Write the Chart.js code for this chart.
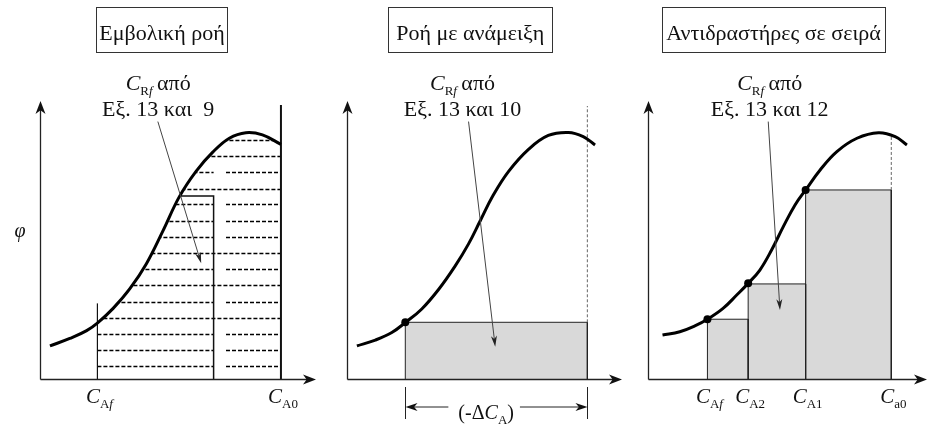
<!DOCTYPE html>
<html>
<head>
<meta charset="utf-8">
<script src="https://cdn.jsdelivr.net/npm/chart.js@4.4.0/dist/chart.umd.min.js"></script>
<style>
html,body{margin:0;padding:0;background:#fff;}
body{width:932px;height:426px;position:relative;overflow:hidden;}
canvas{position:absolute;top:0;}
</style>
</head>
<body>
<canvas id="plug" style="left:0px" width="325" height="426"></canvas>
<canvas id="cstr" style="left:320px" width="310" height="426"></canvas>
<canvas id="series" style="left:625px" width="307" height="426"></canvas>
<script>
// axes run 0..100 in both directions (x = concentration, y = φ)
const curve1U   = [3.6, 10.8, 16.9, 21.0, 26.5, 32.5, 38.5, 44.5, 50.5, 56.6, 62.6, 68.6, 74.6, 80.6, 87.3];
const curve1Phi = [11.9, 14.6, 17.4, 20.3, 25.4, 32.4, 41.4, 53.2, 65.6, 74.8, 81.6, 86.6, 88.6, 87.8, 84.4];
const curve2U   = [3.6, 10.3, 16.3, 21.2, 27.2, 33.3, 39.3, 44.2, 48.5, 53.0, 58.7, 66.0, 73.2, 80.5, 85.9, 90.2];
const curve2Phi = [11.9, 14.0, 16.7, 20.3, 25.2, 32.2, 40.6, 48.6, 57.0, 65.8, 74.6, 82.6, 87.6, 88.7, 87.2, 84.2];
const curve3U   = [5.2, 11.4, 16.8, 21.3, 26.9, 31.8, 35.9, 40.1, 44.3, 48.5, 52.7, 56.5, 61.7, 67.7, 74.9, 82.6, 88.6, 92.8];
const curve3Phi = [15.8, 17.0, 19.1, 21.5, 25.4, 30.2, 34.4, 39.2, 46.4, 54.8, 62.6, 68.0, 75.2, 81.8, 86.6, 88.6, 87.2, 84.2];

// plug flow
const pfrCAf = 20.8, pfrCA0 = 87.3;
const pfrCAfTop = 27.2, pfrCA0Top = 98.6;
const pfrInnerX = [50.8, 62.9], pfrInnerTop = 65.8;
const hatchLevels = [86.0, 80.2, 74.4, 68.3, 62.8, 56.9, 51.2, 45.2, 39.6, 33.8, 27.8, 22.1, 16.2, 10.4, 4.7];
const hatchSplit  = [0, 0, 1, 0, 1, 1, 1, 0, 1, 0, 1, 0, 1, 1, 1];
const hatchGap = [62.9, 67.4];

// mixed flow
const cstrCAf = 21.2, cstrCA0 = 87.4, cstrPhi = 20.4, cstrDashTop = 98.2;

// reactors in series
const seriesEdges = [21.3, 35.9, 56.5, 87.2];
const seriesPhi   = [21.5, 34.2, 68.0];
const seriesDotU  = [21.3, 35.9, 56.5];
const seriesDotPhi = [21.5, 34.4, 68.0];
const seriesDashTop = 88.0;

const SERIF = '"Liberation Serif", "DejaVu Serif", serif';
const C = (sub, subIt) => {
  const p = [{t: 'C', it: true}];
  sub.split('').forEach((ch, i) => p.push({t: ch, sub: true, it: !!(subIt && subIt[i])}));
  return p;
};
const noteHead = [{t: 'C', it: true}, {t: 'R', sub: true}, {t: 'f', sub: true, it: true}, {t: '\u2009από'}];

const pts = (xs, ys) => xs.map((x, i) => ({x, y: ys[i]}));
const curveDs = (xs, ys) => ({data: pts(xs, ys), borderColor: '#000', borderWidth: 3, tension: 0.4, pointRadius: 0, fill: false, order: 0});
const lineDs = (data, w, color, dash) => ({data, borderColor: color || '#111', borderWidth: w, borderDash: dash || [], pointRadius: 0, tension: 0, fill: false, order: 1});
const rectDs = (x0, x1, h) => ({data: [{x: x0, y: 0}, {x: x0, y: h}, {x: x1, y: h}, {x: x1, y: 0}], borderColor: '#222', borderWidth: 1, backgroundColor: '#d9d9d9', fill: 'origin', pointRadius: 0, tension: 0, order: 2});
const dotDs = (xs, ys) => ({data: pts(xs, ys), showLine: false, pointRadius: 4, pointBackgroundColor: '#000', pointBorderColor: '#000', pointBorderWidth: 0, order: -1});

function font(p, size) {
  const s = p.sub ? 13 : size;
  return (p.it ? 'italic ' : '') + s + 'px ' + SERIF;
}
function drawRich(ctx, parts, cx, base, size) {
  size = size || 20;
  let w = 0;
  parts.forEach(p => { ctx.font = font(p, size); w += ctx.measureText(p.t).width; });
  let x = cx - w / 2;
  ctx.textAlign = 'left'; ctx.textBaseline = 'alphabetic';
  parts.forEach(p => {
    ctx.font = font(p, size);
    ctx.fillText(p.t, x, base + (p.sub ? 5 : 0));
    x += ctx.measureText(p.t).width;
  });
  return w;
}
function head(ctx, x, y, ang, len, half) {
  ctx.save(); ctx.translate(x, y); ctx.rotate(ang);
  ctx.beginPath(); ctx.moveTo(0, 0); ctx.lineTo(-len, -half); ctx.lineTo(-len * 0.72, 0); ctx.lineTo(-len, half); ctx.closePath();
  ctx.fill(); ctx.restore();
}
function arrow(ctx, x0, y0, x1, y1, len, half) {
  const a = Math.atan2(y1 - y0, x1 - x0);
  ctx.beginPath(); ctx.moveTo(x0, y0); ctx.lineTo(x1 - Math.cos(a) * len * 0.7, y1 - Math.sin(a) * len * 0.7); ctx.stroke();
  head(ctx, x1, y1, a, len, half);
}

function drawHatch(chart, h) {
  const ctx = chart.ctx, xs = chart.scales.x, ys = chart.scales.y, area = chart.chartArea;
  const line = chart.getDatasetMeta(0).dataset;
  line.updateControlPoints(area, 'x');
  const x0 = xs.getPixelForValue(h.from), x1 = xs.getPixelForValue(h.to), yb = ys.getPixelForValue(0);
  const g0 = xs.getPixelForValue(h.gap[0]), g1 = xs.getPixelForValue(h.gap[1]);
  const p = line.points;
  ctx.save();
  ctx.beginPath(); ctx.rect(x0, area.top, x1 - x0, yb - area.top); ctx.clip();
  ctx.beginPath(); line.path(ctx); ctx.lineTo(p[p.length - 1].x, yb); ctx.lineTo(p[0].x, yb); ctx.closePath(); ctx.clip();
  ctx.setLineDash([4, 2]); ctx.lineWidth = 1.6; ctx.strokeStyle = '#000';
  h.levels.forEach((lv, i) => {
    const y = Math.round(ys.getPixelForValue(lv)) + 0.5;
    ctx.beginPath();
    if (h.split[i]) { ctx.moveTo(x0, y); ctx.lineTo(g0, y); ctx.moveTo(g1, y); ctx.lineTo(x1, y); }
    else { ctx.moveTo(x0, y); ctx.lineTo(x1, y); }
    ctx.stroke();
  });
  ctx.restore();
}

function decor(spec) {
  return {
    id: 'decor',
    beforeDatasetsDraw(chart) { if (spec.hatch) drawHatch(chart, spec.hatch); },
    afterDatasetsDraw(chart) {
      const ctx = chart.ctx, xs = chart.scales.x, ys = chart.scales.y;
      const {left, right, top, bottom} = chart.chartArea;
      const X = v => xs.getPixelForValue(v), Y = v => ys.getPixelForValue(v);
      ctx.save();
      ctx.fillStyle = '#111'; ctx.strokeStyle = '#222'; ctx.lineWidth = 1.3;
      // axes with arrow heads
      const ax = Math.round(left) + 0.5, ay = Math.round(bottom) + 0.5;
      ctx.beginPath(); ctx.moveTo(ax, ay); ctx.lineTo(right - 8, ay); ctx.moveTo(ax, ay); ctx.lineTo(ax, top + 8); ctx.stroke();
      head(ctx, right, ay, 0, 13, 5);
      head(ctx, ax, top, -Math.PI / 2, 13, 5);
      // title box
      const tcx = X(spec.title.u);
      ctx.lineWidth = 1; ctx.strokeStyle = '#333';
      ctx.strokeRect(Math.round(tcx - spec.title.w / 2) + 0.5, 7.5, spec.title.w, 45);
      ctx.fillStyle = '#111';
      ctx.font = '22px ' + SERIF; ctx.textAlign = 'center'; ctx.textBaseline = 'alphabetic';
      ctx.fillText(spec.title.text, tcx, 40);
      // note text and pointer
      drawRich(ctx, noteHead, X(spec.note.u), 90, 22);
      ctx.font = '22px ' + SERIF; ctx.textAlign = 'center';
      ctx.fillText(spec.note.eq, X(spec.note.u), 116);
      ctx.strokeStyle = '#444'; ctx.fillStyle = '#222'; ctx.lineWidth = 1;
      arrow(ctx, X(spec.pointer[0]), Y(spec.pointer[1]), X(spec.pointer[2]), Y(spec.pointer[3]), 11, 3);
      // tick labels under the x axis
      ctx.fillStyle = '#111';
      spec.ticks.forEach(t => drawRich(ctx, t.parts, X(t.u) + 2, bottom + 24, 21));
      if (spec.yLabel) {
        ctx.font = 'italic 20px ' + SERIF; ctx.textAlign = 'center'; ctx.textBaseline = 'middle';
        ctx.fillText('φ', X(spec.yLabel.u), Y(spec.yLabel.phi));
      }
      if (spec.span) {
        const s = spec.span, a = Math.round(X(s.from)) + 0.5, b = Math.round(X(s.to)) + 0.5;
        ctx.strokeStyle = '#222'; ctx.lineWidth = 1;
        ctx.beginPath(); ctx.moveTo(a, bottom + 8); ctx.lineTo(a, bottom + 40); ctx.moveTo(b, bottom + 8); ctx.lineTo(b, bottom + 40); ctx.stroke();
        const tc = X(s.textU);
        const w = drawRich(ctx, s.parts, tc, bottom + 40, 20);
        const ly = bottom + 28;
        arrow(ctx, tc - w / 2 - 10, ly, a, ly, 12, 4);
        arrow(ctx, tc + w / 2 + 6, ly, b, ly, 12, 4);
      }
      ctx.restore();
    }
  };
}

function makeChart(id, pad, datasets, spec) {
  return new Chart(document.getElementById(id), {
    type: 'line',
    data: {datasets},
    options: {
      responsive: false, animation: false, devicePixelRatio: 1, events: [],
      layout: {padding: pad},
      scales: {
        x: {type: 'linear', min: 0, max: 100, display: false},
        y: {type: 'linear', min: 0, max: 100, display: false}
      },
      plugins: {legend: {display: false}, tooltip: {enabled: false}}
    },
    plugins: [decor(spec)]
  });
}

makeChart('plug', {left: 40, right: 9, top: 101, bottom: 47}, [
  curveDs(curve1U, curve1Phi),
  lineDs([{x: pfrCAf, y: 0}, {x: pfrCAf, y: pfrCAfTop}], 1.2),
  lineDs([{x: pfrInnerX[0], y: pfrInnerTop}, {x: pfrInnerX[1], y: pfrInnerTop}, {x: pfrInnerX[1], y: 0}], 1.5),
  lineDs([{x: pfrCA0, y: 0}, {x: pfrCA0, y: pfrCA0Top}], 2)
], {
  title: {text: 'Εμβολική ροή', u: 44.2, w: 131},
  note: {u: 42.8, eq: 'Εξ. 13 και  9'},
  pointer: [42.7, 92.6, 58.4, 41.6],
  ticks: [{u: pfrCAf, parts: C('Af', [0, 1])}, {u: pfrCA0, parts: C('A0')}],
  yLabel: {u: -7.2, phi: 52.9},
  hatch: {from: pfrCAf, to: pfrCA0, levels: hatchLevels, split: hatchSplit, gap: hatchGap}
});

makeChart('cstr', {left: 27, right: 8, top: 101, bottom: 47}, [
  curveDs(curve2U, curve2Phi),
  rectDs(cstrCAf, cstrCA0, cstrPhi),
  lineDs([{x: cstrCA0, y: cstrPhi}, {x: cstrCA0, y: cstrDashTop}], 1, '#666', [3, 2]),
  dotDs([cstrCAf], [cstrPhi])
], {
  title: {text: 'Ροή με ανάμειξη', u: 44.8, w: 164},
  note: {u: 42.0, eq: 'Εξ. 13 και 10'},
  pointer: [44.2, 92.6, 53.9, 11.6],
  ticks: [],
  span: {from: cstrCAf, to: cstrCA0, textU: 50.6, parts: [{t: '(-Δ'}, {t: 'C', it: true}, {t: 'A', sub: true}, {t: ')'}]}
});

makeChart('series', {left: 23, right: 5, top: 101, bottom: 47}, [
  curveDs(curve3U, curve3Phi),
  ...seriesPhi.map((h, i) => rectDs(seriesEdges[i], seriesEdges[i + 1], h)),
  lineDs([{x: seriesEdges[3], y: seriesPhi[2]}, {x: seriesEdges[3], y: seriesDashTop}], 1, '#666', [3, 2]),
  dotDs(seriesDotU, seriesDotPhi)
], {
  title: {text: 'Αντιδραστήρες σε σειρά', u: 45.0, w: 223},
  note: {u: 43.6, eq: 'Εξ. 13 και 12'},
  pointer: [43.1, 92.6, 47.3, 24.8],
  ticks: [
    {u: seriesEdges[0], parts: C('Af', [0, 1])},
    {u: seriesEdges[1], parts: C('A2')},
    {u: seriesEdges[2], parts: C('A1')},
    {u: seriesEdges[3], parts: C('a0')}
  ]
});
</script>
</body>
</html>
